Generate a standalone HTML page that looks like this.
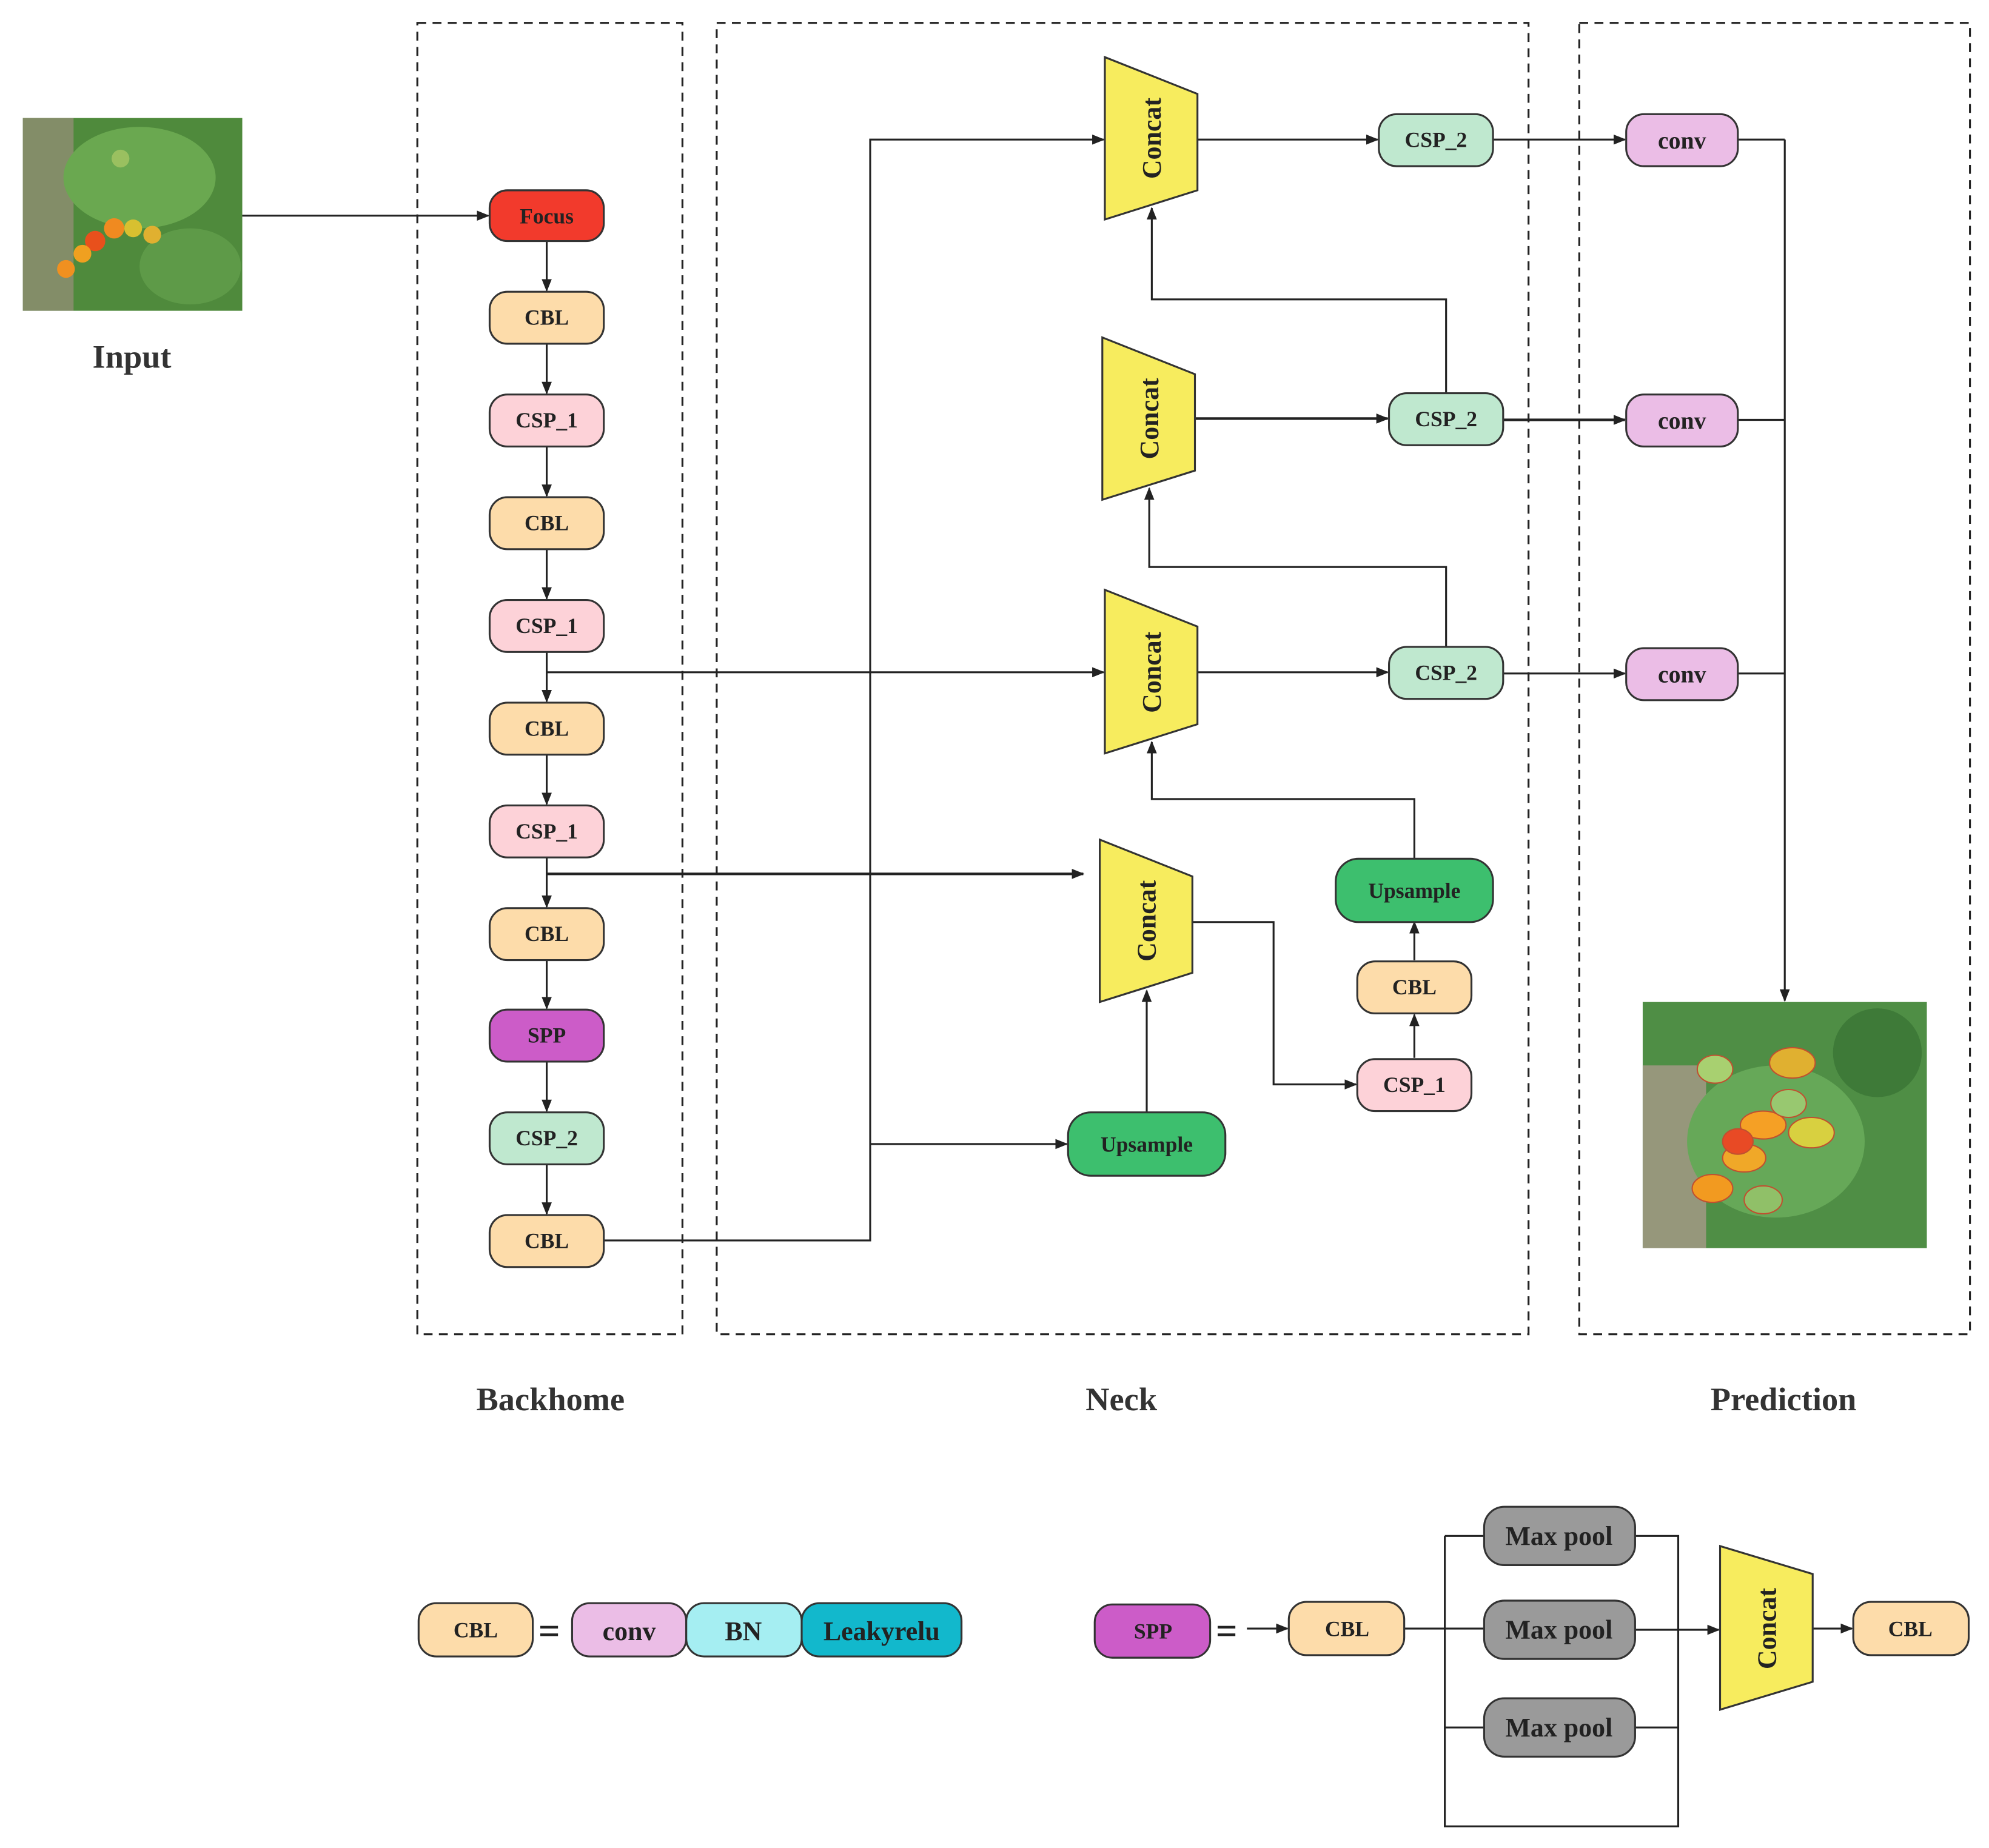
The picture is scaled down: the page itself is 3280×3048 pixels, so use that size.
<!DOCTYPE html>
<html><head><meta charset="utf-8"><style>html,body{margin:0;padding:0;background:#fff}svg{display:block}</style></head>
<body>
<svg width="3280" height="3048" viewBox="0 0 1568 1457" xmlns="http://www.w3.org/2000/svg" font-family="'Liberation Serif', serif" font-weight="bold">
<defs>
<marker id="a" markerWidth="10" markerHeight="8" refX="9" refY="4" orient="auto" markerUnits="userSpaceOnUse"><path d="M0,0 L10,4 L0,8 z" fill="#222"/></marker>
</defs>
<rect width="1568" height="1457" fill="#fff"/>
<g fill="none" stroke="#222" stroke-width="1.5" stroke-dasharray="7,5">
<rect x="329" y="18" width="209" height="1034"/>
<rect x="565" y="18" width="640" height="1034"/>
<rect x="1245" y="18" width="308" height="1034"/>
</g>
<g>
<rect x="18" y="93" width="173" height="152" fill="#4f8a3c"/>
<rect x="18" y="93" width="40" height="152" fill="#9a8f7a" opacity="0.7"/>
<ellipse cx="110" cy="140" rx="60" ry="40" fill="#6aa850"/>
<ellipse cx="150" cy="210" rx="40" ry="30" fill="#5e9a48"/>
<circle cx="90" cy="180" r="8" fill="#f08a20"/><circle cx="75" cy="190" r="8" fill="#e8501c"/><circle cx="65" cy="200" r="7" fill="#f0a020"/><circle cx="105" cy="180" r="7" fill="#d8c030"/><circle cx="120" cy="185" r="7" fill="#e0b030"/><circle cx="52" cy="212" r="7" fill="#f09020"/><circle cx="95" cy="125" r="7" fill="#9ac060"/>
</g>
<text x="104" y="290" font-size="26" text-anchor="middle" fill="#333">Input</text>
<g>
<rect x="1295" y="790" width="224" height="194" fill="#4f8e45"/>
<rect x="1295" y="840" width="50" height="144" fill="#a89a88" opacity="0.8"/>
<ellipse cx="1400" cy="900" rx="70" ry="60" fill="#66a858"/>
<ellipse cx="1480" cy="830" rx="35" ry="35" fill="#3e7a38"/>
<g stroke="#c05030" stroke-width="1" >
<ellipse cx="1350" cy="937" rx="16" ry="11" fill="#f29a20"/><ellipse cx="1375" cy="913" rx="17" ry="11" fill="#f0a828"/><ellipse cx="1390" cy="887" rx="18" ry="11" fill="#f5a025"/><ellipse cx="1370" cy="900" rx="12" ry="10" fill="#e84a25"/><ellipse cx="1428" cy="893" rx="18" ry="12" fill="#d8d040"/><ellipse cx="1413" cy="838" rx="18" ry="12" fill="#e0b030"/><ellipse cx="1352" cy="843" rx="14" ry="11" fill="#a8d070"/><ellipse cx="1390" cy="946" rx="15" ry="11" fill="#90c068"/><ellipse cx="1410" cy="870" rx="14" ry="11" fill="#98c870"/>
</g>
</g>
<g fill="none" stroke="#222" stroke-width="1.5">
<path d="M191,170 H385" marker-end="url(#a)"/>
<path d="M431,190 V229" marker-end="url(#a)"/>
<path d="M431,271 V310" marker-end="url(#a)"/>
<path d="M431,352 V391" marker-end="url(#a)"/>
<path d="M431,433 V472" marker-end="url(#a)"/>
<path d="M431,514 V553" marker-end="url(#a)"/>
<path d="M431,595 V634" marker-end="url(#a)"/>
<path d="M431,676 V715" marker-end="url(#a)"/>
<path d="M431,757 V795" marker-end="url(#a)"/>
<path d="M431,837 V876" marker-end="url(#a)"/>
<path d="M431,918 V957" marker-end="url(#a)"/>
<path d="M476,978 H686 V110 H870" marker-end="url(#a)"/>
<path d="M686,902 H841" marker-end="url(#a)"/>
<path d="M431,530 H870" marker-end="url(#a)"/>
<path d="M431,689 H854" stroke-width="2" marker-end="url(#a)"/>
<path d="M904,877 V781" marker-end="url(#a)"/>
<path d="M940,727 H1004 V855 H1069" marker-end="url(#a)"/>
<path d="M1115,834 V800" marker-end="url(#a)"/>
<path d="M1115,757 V727" marker-end="url(#a)"/>
<path d="M1115,677 V630 H908 V585" marker-end="url(#a)"/>
<path d="M944,530 H1094" marker-end="url(#a)"/>
<path d="M1140,510 V447 H906 V385" marker-end="url(#a)"/>
<path d="M942,330 H1094" stroke-width="2" marker-end="url(#a)"/>
<path d="M1140,310 V236 H908 V164" marker-end="url(#a)"/>
<path d="M944,110 H1086" marker-end="url(#a)"/>
<path d="M1177,110 H1281" marker-end="url(#a)"/>
<path d="M1185,331 H1281" stroke-width="2" marker-end="url(#a)"/>
<path d="M1185,531 H1281" marker-end="url(#a)"/>
<path d="M1370,110 H1407 M1370,331 H1407 M1370,531 H1407"/>
<path d="M1407,110 V789" marker-end="url(#a)"/>
<path d="M983,1284 H1015" marker-end="url(#a)"/>
<path d="M1107,1284 H1170 M1139,1211 H1170 M1139,1362 H1170 M1139,1211 V1440 H1323 V1211 H1289 M1289,1362 H1323"/>
<path d="M1289,1285 H1355" marker-end="url(#a)"/>
<path d="M1429,1284 H1460" marker-end="url(#a)"/>
</g>
<g stroke="#333" stroke-width="1.5" font-size="17" text-anchor="middle">
<g>
<rect x="386" y="150" width="90" height="40" rx="14" fill="#f23a2c"/><text x="431" y="176" stroke="none" fill="#222">Focus</text>
<rect x="386" y="230" width="90" height="41" rx="14" fill="#fddcaa"/><text x="431" y="256" stroke="none" fill="#222">CBL</text>
<rect x="386" y="311" width="90" height="41" rx="14" fill="#fdd2d8"/><text x="431" y="337" stroke="none" fill="#222">CSP_1</text>
<rect x="386" y="392" width="90" height="41" rx="14" fill="#fddcaa"/><text x="431" y="418" stroke="none" fill="#222">CBL</text>
<rect x="386" y="473" width="90" height="41" rx="14" fill="#fdd2d8"/><text x="431" y="499" stroke="none" fill="#222">CSP_1</text>
<rect x="386" y="554" width="90" height="41" rx="14" fill="#fddcaa"/><text x="431" y="580" stroke="none" fill="#222">CBL</text>
<rect x="386" y="635" width="90" height="41" rx="14" fill="#fdd2d8"/><text x="431" y="661" stroke="none" fill="#222">CSP_1</text>
<rect x="386" y="716" width="90" height="41" rx="14" fill="#fddcaa"/><text x="431" y="742" stroke="none" fill="#222">CBL</text>
<rect x="386" y="796" width="90" height="41" rx="14" fill="#cc5cc8"/><text x="431" y="822" stroke="none" fill="#222">SPP</text>
<rect x="386" y="877" width="90" height="41" rx="14" fill="#bfe8cf"/><text x="431" y="903" stroke="none" fill="#222">CSP_2</text>
<rect x="386" y="958" width="90" height="41" rx="14" fill="#fddcaa"/><text x="431" y="984" stroke="none" fill="#222">CBL</text>
</g>
<rect x="1087" y="90" width="90" height="41" rx="14" fill="#bfe8cf"/><text x="1132" y="116" stroke="none" fill="#222">CSP_2</text>
<rect x="1095" y="310" width="90" height="41" rx="14" fill="#bfe8cf"/><text x="1140" y="336" stroke="none" fill="#222">CSP_2</text>
<rect x="1095" y="510" width="90" height="41" rx="14" fill="#bfe8cf"/><text x="1140" y="536" stroke="none" fill="#222">CSP_2</text>
<rect x="842" y="877" width="124" height="50" rx="18" fill="#3dbf6e"/><text x="904" y="908" stroke="none" fill="#222">Upsample</text>
<rect x="1053" y="677" width="124" height="50" rx="18" fill="#3dbf6e"/><text x="1115" y="708" stroke="none" fill="#222">Upsample</text>
<rect x="1070" y="758" width="90" height="41" rx="14" fill="#fddcaa"/><text x="1115" y="784" stroke="none" fill="#222">CBL</text>
<rect x="1070" y="835" width="90" height="41" rx="14" fill="#fdd2d8"/><text x="1115" y="861" stroke="none" fill="#222">CSP_1</text>
<rect x="1282" y="90" width="88" height="41" rx="14" fill="#ebbde6"/><text x="1326" y="117" stroke="none" fill="#222" font-size="19">conv</text>
<rect x="1282" y="311" width="88" height="41" rx="14" fill="#ebbde6"/><text x="1326" y="338" stroke="none" fill="#222" font-size="19">conv</text>
<rect x="1282" y="511" width="88" height="41" rx="14" fill="#ebbde6"/><text x="1326" y="538" stroke="none" fill="#222" font-size="19">conv</text>
<g fill="#f7ec5e">
<path d="M871,45 L944,74 L944,150 L871,173 Z"/>
<path d="M869,266 L942,295 L942,371 L869,394 Z"/>
<path d="M871,465 L944,494 L944,571 L871,594 Z"/>
<path d="M867,662 L940,691 L940,767 L867,790 Z"/>
<path d="M1356,1219 L1429,1241 L1429,1326 L1356,1348 Z"/>
</g>
<g stroke="none" fill="#222" font-size="21">
<text transform="translate(915,109) rotate(-90)">Concat</text>
<text transform="translate(913,330) rotate(-90)">Concat</text>
<text transform="translate(915,530) rotate(-90)">Concat</text>
<text transform="translate(911,726) rotate(-90)">Concat</text>
<text transform="translate(1400,1284) rotate(-90)">Concat</text>
</g>
<rect x="330" y="1264" width="90" height="42" rx="14" fill="#fddcaa"/><text x="375" y="1291" stroke="none" fill="#222">CBL</text>
<rect x="451" y="1264" width="90" height="42" rx="14" fill="#ebbde6"/><text x="496" y="1293" stroke="none" fill="#222" font-size="21">conv</text>
<rect x="541" y="1264" width="91" height="42" rx="14" fill="#a5eef2"/><text x="586" y="1293" stroke="none" fill="#222" font-size="21">BN</text>
<rect x="632" y="1264" width="126" height="42" rx="14" fill="#12b8cc"/><text x="695" y="1293" stroke="none" fill="#222" font-size="21">Leakyrelu</text>
<rect x="863" y="1265" width="91" height="42" rx="14" fill="#cc5cc8"/><text x="909" y="1292" stroke="none" fill="#222">SPP</text>
<rect x="1016" y="1263" width="91" height="42" rx="14" fill="#fddcaa"/><text x="1062" y="1290" stroke="none" fill="#222">CBL</text>
<rect x="1461" y="1263" width="91" height="42" rx="14" fill="#fddcaa"/><text x="1506" y="1290" stroke="none" fill="#222">CBL</text>
<rect x="1170" y="1188" width="119" height="46" rx="16" fill="#9a9a9a"/><text x="1229" y="1218" stroke="none" fill="#222" font-size="21">Max pool</text>
<rect x="1170" y="1262" width="119" height="46" rx="16" fill="#9a9a9a"/><text x="1229" y="1292" stroke="none" fill="#222" font-size="21">Max pool</text>
<rect x="1170" y="1339" width="119" height="46" rx="16" fill="#9a9a9a"/><text x="1229" y="1369" stroke="none" fill="#222" font-size="21">Max pool</text>
</g>
<g fill="#222" font-size="30" text-anchor="middle">
<text x="433" y="1296">=</text>
<text x="967" y="1296">=</text>
</g>
<g fill="#333" font-size="26" text-anchor="middle">
<text x="434" y="1112">Backhome</text>
<text x="884" y="1112">Neck</text>
<text x="1406" y="1112">Prediction</text>
</g>
</svg>
</body></html>
